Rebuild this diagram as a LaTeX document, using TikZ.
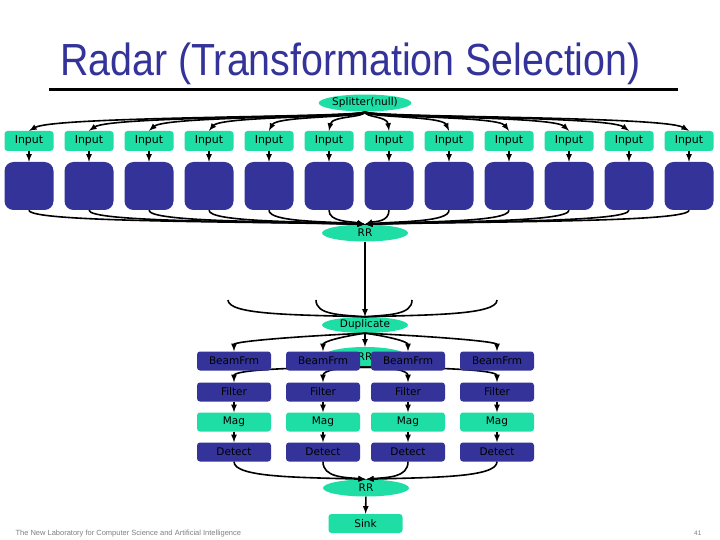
\documentclass[tikz,border=0pt]{standalone}
\usepackage{fontspec}
\setmainfont{DejaVu Sans}
\newfontfamily\titlefont{Liberation Sans}
\usetikzlibrary{arrows,shapes.geometric,calc}

\definecolor{streamgreen}{RGB}{30,222,166}
\definecolor{streamblue}{RGB}{51,51,153}

\begin{document}
\begin{tikzpicture}[x=1pt,y=-1pt,>=latex]
  \tikzstyle{link}=[->,line width=1.6pt]
  \tikzstyle{wire}=[line width=1.6pt]
  \tikzstyle{inbox}=[fill=streamgreen,rounded corners=3pt,minimum width=49pt,minimum height=20pt,inner sep=0pt,font=\fontsize{11}{13}\selectfont]
  \tikzstyle{pebox}=[fill=streamblue,rounded corners=9pt,minimum width=49pt,minimum height=48pt,inner sep=0pt]
  \tikzstyle{joiner}=[ellipse,fill=streamgreen,minimum width=86pt,minimum height=17pt,inner sep=0pt,font=\fontsize{10.5}{12}\selectfont]
  \tikzstyle{stage}=[rounded corners=3pt,minimum width=74pt,minimum height=19pt,inner sep=0pt,font=\fontsize{10.5}{12}\selectfont]

  \useasboundingbox[fill=white] (0,0) rectangle (720,540);

  % Title
  \node[anchor=base west,text=streamblue,xscale=0.875,font=\titlefont\fontsize{45}{50}\selectfont] (title) at (57,76) {Radar (Transformation Selection)};
  \draw[line width=3pt] (49,90) -- (678,90);

  % Splitter and the twelve inputs
  \node[joiner] (split) at (365,103) {Splitter(null)};
  \foreach \i in {1,...,12}{
    \pgfmathsetmacro{\x}{29+60*(\i-1)}
    \node[inbox] (in\i) at (\x,141) {Input};
    \node[pebox] (blk\i) at (\x,186) {};
    \draw[link] (in\i) -- (blk\i);
    \draw[link] (split.south) .. controls +(0,6) and +({(365-\x)*0.08},-15) .. (in\i.north);
  }

  % Join into RR
  \node[joiner] (rr) at (365,233) {RR};
  \foreach \i in {1,...,12}{
    \pgfmathsetmacro{\x}{29+60*(\i-1)}
    \draw[link] (blk\i.south) .. controls +(0,12) and +({(\x-365)*0.4},-3) .. (rr.north);
  }

  \node[joiner,minimum height=16pt] (dup) at (365,325) {Duplicate};
  \draw[link] (rr) -- (dup);
  \foreach \i/\x in {1/228,2/316,3/412,4/497}{
    \coordinate (feed\i) at (\x,300);
    \draw[wire] (feed\i) .. controls +(0,15) and +({(\x-365)*0.5},-2) .. (dup.north);
  }

  % Four pipelines
  \foreach \i/\x in {1/234,2/323,3/408,4/497}{
    \node[stage,fill=streamblue] (fl\i) at (\x,392) {Filter};
    \node[stage,fill=streamgreen] (mag\i) at (\x,422) {Mag};
    \node[stage,fill=streamblue] (det\i) at (\x,452) {Detect};
    \draw[link] (fl\i) -- (mag\i);
    \draw[link] (mag\i) -- (det\i);
  }
  \node[joiner,minimum height=20pt] (rrb) at (365,357) {RR};
  \foreach \i/\x in {1/234,2/323,3/408,4/497}{
    \draw[link] (rrb.south) .. controls +({(\x-365)*0.6},0) and +(0,-12) .. (fl\i.north);
  }
  \foreach \i/\x in {1/234,2/323,3/408,4/497}{
    \node[stage,fill=streamblue] (bf\i) at (\x,361) {BeamFrm};
    \draw[link] (dup.south) .. controls +({(\x-365)*0.5},3) and +(0,-10) .. (bf\i.north);
  }
  \draw[link] (dup) -- (rrb);

  % Final join and sink
  \node[joiner] (rr2) at (366,488) {RR};
  \foreach \i/\x in {1/234,2/323,3/408,4/497}{
    \draw[link] (det\i.south) .. controls +(0,16) and +({(\x-365)*0.5},-2) .. (rr2.north);
  }
  \node[stage,fill=streamgreen] (sink) at (365.5,523.5) {Sink};
  \draw[link] (rr2) -- (sink);

  % Footer
  \node[anchor=base west,text=gray,font=\titlefont\fontsize{7.5}{9}\selectfont] (footer) at (12,535) {The New Laboratory for Computer Science and Artificial Intelligence};
  \node[anchor=base east,text=gray,font=\titlefont\fontsize{6.5}{8}\selectfont] (pageno) at (705,535) {41};
\end{tikzpicture}
\end{document}
